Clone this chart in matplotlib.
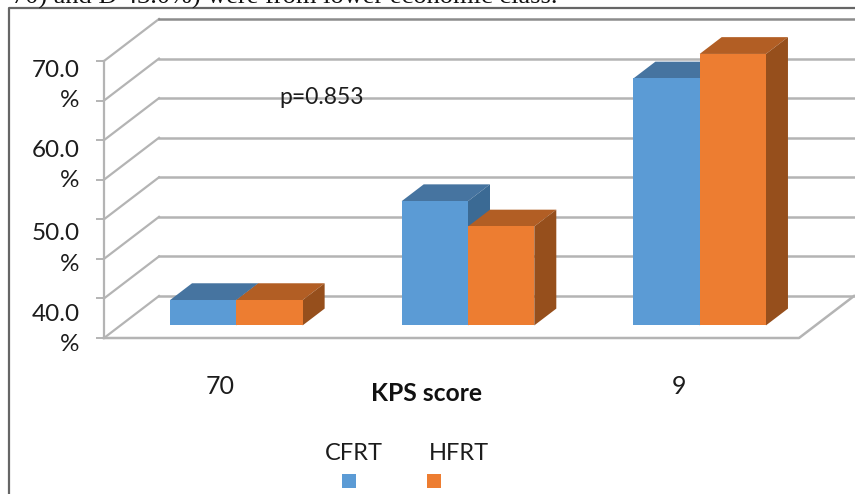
# kps_bar3d.py
# KPS score by treatment arm, drawn as a fake 3D column chart on a plain axes.

import matplotlib
matplotlib.use('Agg')
import matplotlib.pyplot as plt
from matplotlib.patches import Polygon, Rectangle

plt.rcParams['font.family'] = ['Lato', 'DejaVu Sans']

# Data
categories = ['70', '', '9']
cfrt_values = [43.2, 55.7, 71.2]
hfrt_values = [43.2, 52.5, 74.3]
series_names = ['CFRT', 'HFRT']
y_labels = ['40.0\n%', '50.0\n%', '60.0\n%', '70.0\n%']
y_label_values = [40, 50, 60, 70]
grid_values = [40, 45, 50, 55, 60, 65, 70, 75]

W, H = 855, 494
fig = plt.figure(figsize=(W / 100, H / 100), dpi=100, facecolor='white')
ax = fig.add_axes([104 / W, 1 - 338 / H, 695 / W, 277 / H])
ax.set_xlim(0, 3)
ax.set_ylim(40, 75)
ax.patch.set_visible(False)

# depth of the box, in data units
depth_x = 55 / (695 / 3)
depth_y = 42 / (277 / 35)
grid_color = '#b4b4b4'
text_color = '#1c1c1c'


def proj(x, y, d):
    return (x + d * depth_x, y + d * depth_y)


# walls and floor
for v in grid_values:
    back_color = '#8c8c8c' if v == 75 else grid_color
    ax.plot([proj(0, v, 0)[0], proj(0, v, 1)[0]],
            [proj(0, v, 0)[1], proj(0, v, 1)[1]],
            color=grid_color, lw=1.6, clip_on=False, zorder=1)
    ax.plot([proj(0, v, 1)[0], proj(3, v, 1)[0]],
            [proj(0, v, 1)[1], proj(3, v, 1)[1]],
            color=back_color, lw=1.8, clip_on=False, zorder=1)
ax.plot([0, 3, proj(3, 40, 1)[0]], [40, 40, proj(3, 40, 1)[1]],
        color=grid_color, lw=1.8, clip_on=False, zorder=1)

for s in ['top', 'right', 'bottom']:
    ax.spines[s].set_visible(False)
ax.spines['left'].set_color(grid_color)
ax.spines['left'].set_linewidth(1.6)

ax.set_yticks(grid_values)
ax.set_yticklabels([])
ax.tick_params(axis='y', length=6, width=1.4, color=grid_color)
ax.set_xticks([0.5, 1.5, 2.48])
ax.set_xticklabels(categories, fontsize=18, color=text_color)
ax.tick_params(axis='x', length=0, pad=26.5)

# y labels wrap on two lines and sit a bit above their tick
label_shift = [6, 7.2, 10.4, 10.8]
for v, lab, shift in zip(y_label_values, y_labels, label_shift):
    ax.annotate(lab, xy=(0, v), xycoords=('axes fraction', 'data'),
                xytext=(-17.5, shift), textcoords='offset points',
                ha='right', va='center', fontsize=17.5, color=text_color,
                linespacing=1.55)

# bars
bar_w = 66.3 / (695 / 3)
styles = [('#5B9BD5', '#4674A0', '#3B6A94'), ('#ED7D31', '#B25E24', '#964F1C')]
d0, d1 = 0.3, 0.7
z = 3
for i in range(len(categories)):
    for j, vals in enumerate([cfrt_values, hfrt_values]):
        left = i + 0.5 + (j - 1) * bar_w
        right = left + bar_w
        v = vals[i]
        front, top, side = styles[j]
        ax.add_patch(Polygon([proj(left, v, d0), proj(right, v, d0),
                              proj(right, v, d1), proj(left, v, d1)],
                             fc=top, ec='none', clip_on=False, zorder=z))
        ax.add_patch(Polygon([proj(right, 40, d0), proj(right, v, d0),
                              proj(right, v, d1), proj(right, 40, d1)],
                             fc=side, ec='none', clip_on=False, zorder=z))
        ax.add_patch(Polygon([proj(left, 40, d0), proj(right, 40, d0),
                              proj(right, v, d0), proj(left, v, d0)],
                             fc=front, ec='none', clip_on=False, zorder=z + 1))
        z += 2

# texts placed in pixels of the original picture
def fx(px):
    return px / W


def fy(py):
    return 1 - py / H


fig.text(fx(322), fy(98), 'p=0.853', fontsize=16.5, color=text_color, ha='center', va='center')
fig.text(fx(426.5), fy(393), 'KPS score', fontsize=17.7, fontweight='bold', color='#111111',
         ha='center', va='center')
fig.text(fx(353.5), fy(453), series_names[0], fontsize=17, color=text_color, ha='center', va='center')
fig.text(fx(458.5), fy(453), series_names[1], fontsize=17, color=text_color, ha='center', va='center')
fig.add_artist(Rectangle((fx(342), fy(488)), 13.5 / W, 14 / H, fc='#5B9BD5', ec='none',
                         transform=fig.transFigure))
fig.add_artist(Rectangle((fx(427), fy(488)), 14 / W, 14 / H, fc='#ED7D31', ec='none',
                         transform=fig.transFigure))

# picture frame
fig.add_artist(plt.Line2D([fx(9), fx(9), fx(855)], [fy(494), fy(8), fy(8)],
                          color='#666666', lw=1.6, transform=fig.transFigure))

# cut off line of the page text above the chart
fig.text(fx(557), fy(4), '70) and D 43.0%) were from lower economic class.',
         fontsize=19, family='Liberation Serif', color='#111111', ha='right', va='baseline')

fig.savefig('out.png', dpi=100)
